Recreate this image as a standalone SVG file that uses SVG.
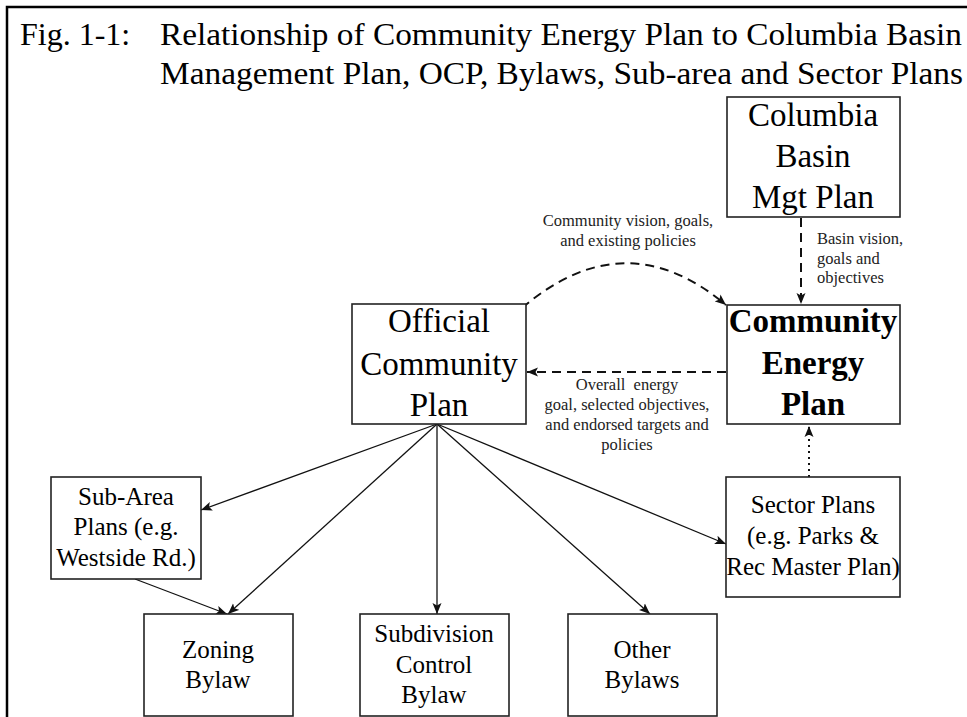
<svg xmlns="http://www.w3.org/2000/svg" width="967" height="717" viewBox="0 0 967 717">
<style>
  text { font-family: "Liberation Serif", "Times New Roman", serif; fill: #000; }
  .title { font-size: 32px; }
  .big { font-size: 33px; text-anchor: middle; }
  .bold { font-weight: bold; }
  .mid { font-size: 25px; text-anchor: middle; }
  .lbl { font-size: 16.5px; fill: #222; }
  .c { text-anchor: middle; }
  .box { fill: #fff; stroke: #222; stroke-width: 1.6; }
  .frame { fill: none; stroke: #000; stroke-width: 2.5; }
  .solid { fill: none; stroke: #111; stroke-width: 1.3; marker-end: url(#arr); }
  .dash { fill: none; stroke: #111; stroke-width: 2; stroke-dasharray: 9 6; marker-end: url(#arr); }
  .dot { fill: none; stroke: #111; stroke-width: 2; stroke-dasharray: 2 4; marker-end: url(#arr); }
</style>
<defs>
  <marker id="arr" markerUnits="userSpaceOnUse" markerWidth="12" markerHeight="10" refX="11" refY="5" orient="auto" viewBox="0 0 12 10">
    <path d="M0,0.5 L11,5 L0,9.5 L2.5,5 Z" fill="#111" stroke="none"/>
  </marker>
</defs>
<rect x="0" y="0" width="967" height="717" fill="#fff"/>
<path class="frame" d="M7,717 L7,7 L967,7"/>
<g id="title">
  <text class="title" x="20" y="45">Fig. 1-1:</text>
  <text class="title" x="160" y="45" textLength="802" lengthAdjust="spacingAndGlyphs">Relationship of Community Energy Plan to Columbia Basin</text>
  <text class="title" x="160" y="84" textLength="803" lengthAdjust="spacingAndGlyphs">Management Plan, OCP, Bylaws, Sub-area and Sector Plans</text>
</g>
<g id="connectors">
  <path class="dash" d="M801,218 L801,304"/>
  <path class="dash" d="M522,308 Q625,220 726,305"/>
  <path class="dash" d="M726,372 L527,372"/>
  <path class="dot" d="M809,477 L809,426"/>
  <path class="solid" d="M437,424 L201,510"/>
  <path class="solid" d="M437,424 L228,614"/>
  <path class="solid" d="M437,424 L437,614"/>
  <path class="solid" d="M437,424 L650,614"/>
  <path class="solid" d="M437,424 L726,544"/>
  <path class="solid" d="M135,579 L227,614"/>
  <text class="lbl c" x="628" y="226">Community vision, goals,</text>
  <text class="lbl c" x="628" y="246">and existing policies</text>
  <text class="lbl" x="817" y="244">Basin vision,</text>
  <text class="lbl" x="817" y="264">goals and</text>
  <text class="lbl" x="817" y="283">objectives</text>
  <text class="lbl c" x="627" y="390" xml:space="preserve">Overall  energy</text>
  <text class="lbl c" x="627" y="410">goal, selected objectives,</text>
  <text class="lbl c" x="627" y="430">and endorsed targets and</text>
  <text class="lbl c" x="627" y="450">policies</text>
</g>
<g id="columbia">
  <rect class="box" x="727" y="97" width="173" height="120"/>
  <text class="big" x="813" y="126">Columbia</text>
  <text class="big" x="813" y="167">Basin</text>
  <text class="big" x="813" y="208">Mgt Plan</text>
</g>
<g id="ocp">
  <rect class="box" x="352" y="304" width="174" height="120"/>
  <text class="big" x="439" y="332">Official</text>
  <text class="big" x="439" y="375">Community</text>
  <text class="big" x="439" y="416">Plan</text>
</g>
<g id="cep">
  <rect class="box" x="727" y="305" width="173" height="119"/>
  <text class="big bold" x="813" y="332">Community</text>
  <text class="big bold" x="813" y="374">Energy</text>
  <text class="big bold" x="813" y="415">Plan</text>
</g>
<g id="subarea">
  <rect class="box" x="51" y="477" width="150" height="102"/>
  <text class="mid" x="126" y="505">Sub-Area</text>
  <text class="mid" x="126" y="535">Plans (e.g.</text>
  <text class="mid" x="126" y="566">Westside Rd.)</text>
</g>
<g id="sector">
  <rect class="box" x="726" y="477" width="174" height="120"/>
  <text class="mid" x="813" y="513">Sector Plans</text>
  <text class="mid" x="813" y="544">(e.g. Parks &amp;</text>
  <text class="mid" x="813" y="575">Rec Master Plan)</text>
</g>
<g id="zoning">
  <rect class="box" x="144" y="614" width="149" height="102"/>
  <text class="mid" x="218" y="658">Zoning</text>
  <text class="mid" x="218" y="688">Bylaw</text>
</g>
<g id="subdivision">
  <rect class="box" x="360" y="614" width="149" height="102"/>
  <text class="mid" x="434" y="642">Subdivision</text>
  <text class="mid" x="434" y="673">Control</text>
  <text class="mid" x="434" y="703">Bylaw</text>
</g>
<g id="other">
  <rect class="box" x="568" y="614" width="149" height="102"/>
  <text class="mid" x="642" y="658">Other</text>
  <text class="mid" x="642" y="688">Bylaws</text>
</g>
</svg>
